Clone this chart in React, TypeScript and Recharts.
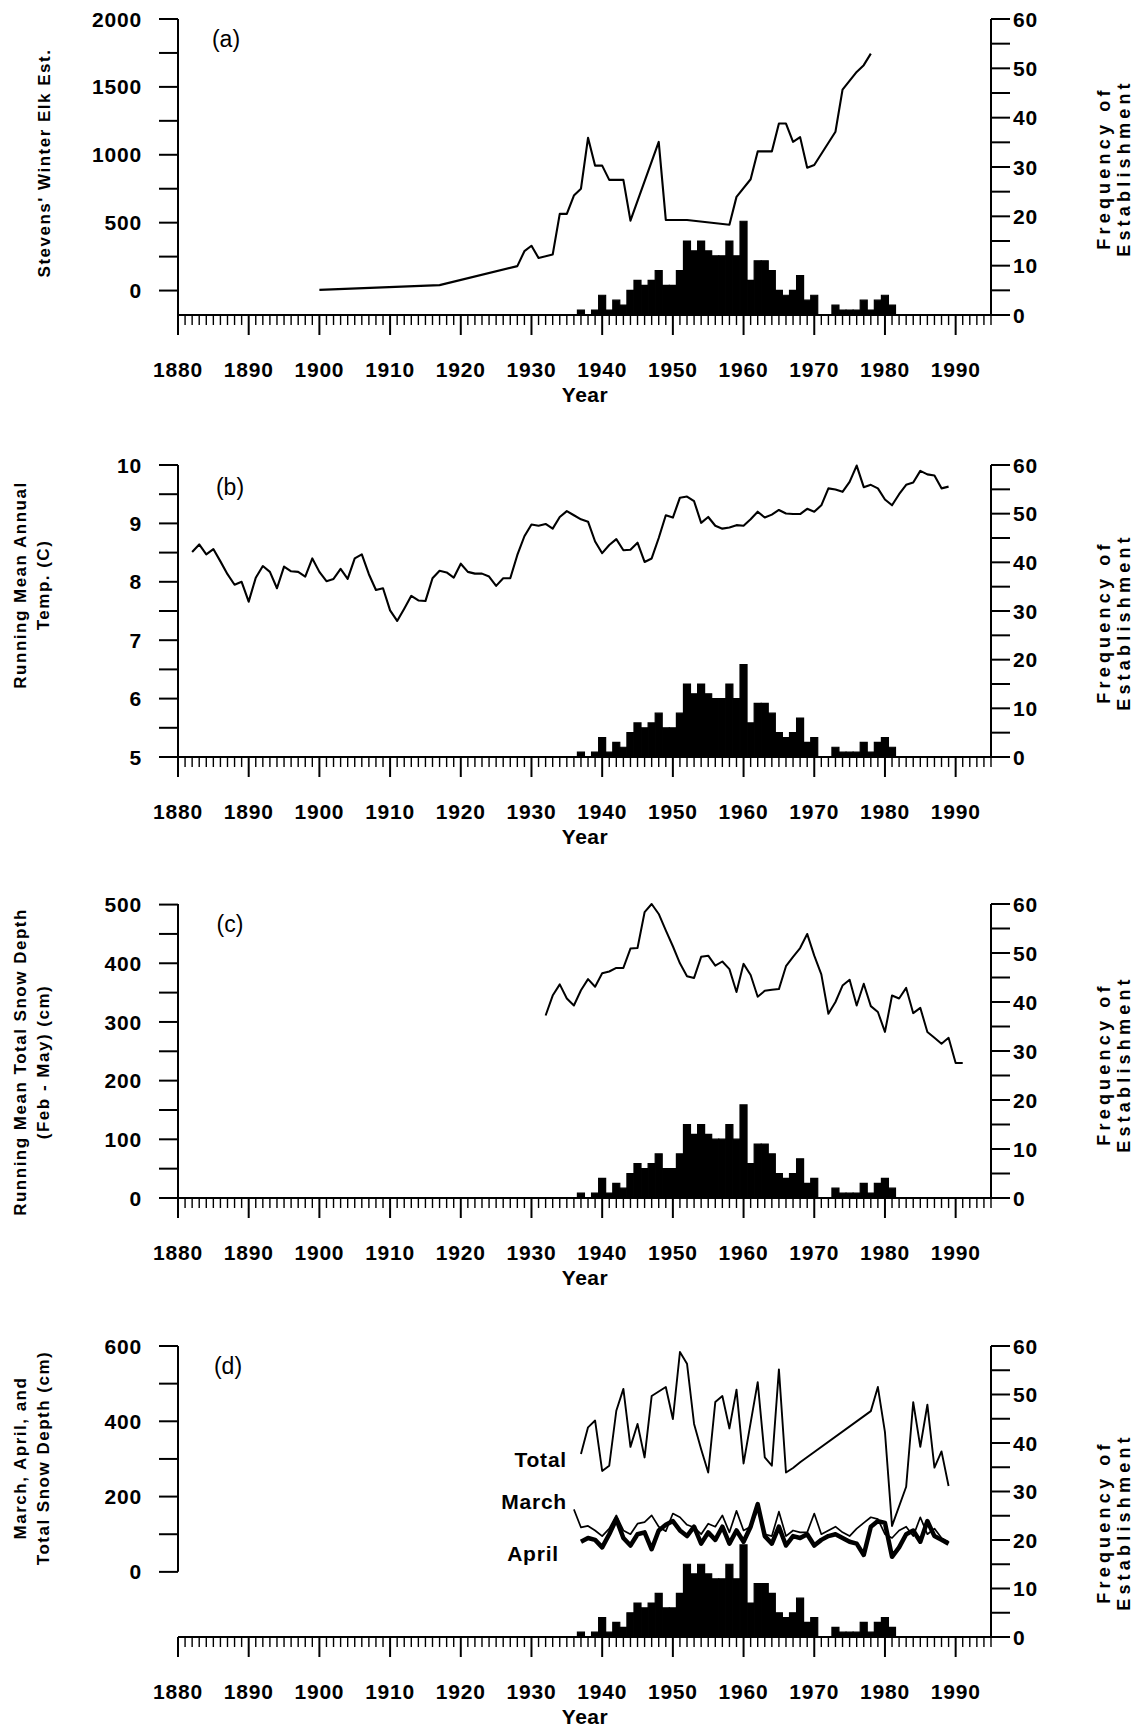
import React from 'react';
import { ComposedChart, Bar, Line, XAxis, YAxis, ReferenceLine } from 'recharts';

// frequency of establishment, one bar per year from 1937
const FREQ_START = 1937;
const freqCounts = [1, 0, 1, 4, 1, 3, 2, 5, 7, 6, 7, 9, 6, 6, 9, 15, 13, 15, 13, 12, 12, 15, 12, 19, 7, 11, 11, 9, 5, 4, 5, 8, 3, 4, 0, 0, 2, 1, 1, 1, 3, 1, 3, 4, 2];

// (a) Stevens' winter elk estimate
const elkYears = [1900, 1917, 1928, 1929, 1930, 1931, 1933, 1934, 1935, 1936, 1937, 1938, 1939, 1940, 1941, 1943, 1944, 1948, 1949, 1952, 1958, 1959, 1961, 1962, 1964, 1965, 1966, 1967, 1968, 1969, 1970, 1973, 1974, 1976, 1977, 1978];
const elkValues = [5, 40, 180, 290, 330, 240, 265, 565, 565, 700, 750, 1125, 920, 920, 815, 815, 515, 1095, 520, 520, 485, 690, 820, 1025, 1025, 1230, 1230, 1095, 1130, 905, 925, 1170, 1480, 1610, 1660, 1745];

// (b) running mean annual temperature
const TEMP_START = 1882;
const tempValues = [
  8.51, 8.64, 8.47, 8.56, 8.35, 8.13, 7.95, 8.0, 7.66, 8.07,
  8.27, 8.17, 7.89, 8.26, 8.18, 8.17, 8.09, 8.4, 8.17, 8.01,
  8.05, 8.22, 8.05, 8.4, 8.47, 8.13, 7.86, 7.89, 7.51, 7.33,
  7.54, 7.76, 7.68, 7.67, 8.06, 8.19, 8.16, 8.07, 8.31, 8.17,
  8.14, 8.14, 8.09, 7.93, 8.06, 8.06, 8.46, 8.78, 8.98, 8.96,
  8.99, 8.91, 9.11, 9.21, 9.14, 9.07, 9.03, 8.69, 8.49, 8.63,
  8.73, 8.54, 8.55, 8.67, 8.34, 8.4, 8.75, 9.14, 9.1, 9.44,
  9.46, 9.38, 9.01, 9.11, 8.96, 8.91, 8.93, 8.97, 8.96, 9.07,
  9.2, 9.1, 9.15, 9.23, 9.17, 9.16, 9.16, 9.25, 9.2, 9.31,
  9.6, 9.58, 9.54, 9.71, 9.99, 9.62, 9.66, 9.6, 9.41, 9.31,
  9.5, 9.66, 9.7, 9.9, 9.84, 9.82, 9.6, 9.63,
];

// (c) running mean total snow depth (Feb - May)
const SNOW_START = 1932;
const snowValues = [
  311, 345, 364, 340, 328, 354, 373, 360, 383, 386,
  392, 392, 425, 426, 487, 501, 484, 456, 429, 400,
  378, 375, 411, 413, 396, 403, 390, 351, 399, 380,
  343, 353, 355, 356, 395, 411, 426, 450, 413, 381,
  314, 334, 362, 372, 328, 365, 327, 317, 283, 345,
  340, 358, 315, 324, 283, 273, 263, 273, 230, 230,
];

// (d) total, March and April snow depth
const totalYears = [1937, 1938, 1939, 1940, 1941, 1942, 1943, 1944, 1945, 1946, 1947, 1949, 1950, 1951, 1952, 1953, 1954, 1955, 1956, 1957, 1958, 1959, 1960, 1962, 1963, 1964, 1965, 1966, 1967, 1968, 1978, 1979, 1980, 1981, 1983, 1984, 1985, 1986, 1987, 1988, 1989];
const totalValues = [313, 384, 402, 268, 282, 428, 486, 332, 393, 304, 467, 491, 406, 584, 553, 393, 326, 264, 451, 467, 381, 484, 288, 504, 304, 282, 538, 264, 276, 291, 427, 491, 371, 122, 226, 451, 332, 444, 277, 320, 228];
const MARCH_START = 1936;
const marchValues = [
  166, 118, 122, 110, 95, 115, 150, 110, 100, 128,
  132, 150, 120, 108, 155, 145, 125, 118, 100, 128,
  120, 150, 105, 162, 110, 120, 165, 100, 95, 160,
  95, 110, 105, 105, 155, 100, 110, 120, 105, 95,
  115, 130, 145, 140, 100, 90, 110, 120, 95, 145,
  100, 115, 90, 80,
];
const APRIL_START = 1937;
const aprilValues = [
  80, 90, 85, 65, 100, 140, 90, 70, 100, 105,
  60, 110, 125, 135, 110, 95, 120, 75, 105, 85,
  120, 75, 110, 80, 120, 180, 95, 75, 120, 70,
  95, 90, 100, 70, 85, 95, 100, 90, 80, 75,
  45, 120, 135, 130, 40, 65, 100, 110, 80, 135,
  95, 85, 75,
];

// axis ticks
const yearTicks = Array.from({ length: 116 }, (_, i) => 1880 + i);
const freqTicks = [0, 5, 10, 15, 20, 25, 30, 35, 40, 45, 50, 55, 60];
const elkTicks = [0, 250, 500, 750, 1000, 1250, 1500, 1750, 2000];
const tempTicks = [5, 5.5, 6, 6.5, 7, 7.5, 8, 8.5, 9, 9.5, 10];
const snowTicks = [0, 50, 100, 150, 200, 250, 300, 350, 400, 450, 500];
const depthTicks = [0, 100, 200, 300, 400, 500, 600];

const span = (start: number, n: number) => Array.from({ length: n }, (_, i) => start + i);

function makeRows(cols: { key: string; years: number[]; values: number[] }[]) {
  const map = new Map<number, any>();
  cols.forEach((c) =>
    c.years.forEach((y, i) => {
      const row = map.get(y) ?? { year: y };
      row[c.key] = c.values[i];
      map.set(y, row);
    })
  );
  return [...map.values()].sort((a, b) => a.year - b.year);
}

const freqCol = { key: 'freq', years: span(FREQ_START, freqCounts.length), values: freqCounts };

const rowsA = makeRows([freqCol, { key: 'elk', years: elkYears, values: elkValues }]);
const rowsB = makeRows([freqCol, { key: 'temp', years: span(TEMP_START, tempValues.length), values: tempValues }]);
const rowsC = makeRows([freqCol, { key: 'snow', years: span(SNOW_START, snowValues.length), values: snowValues }]);
const rowsD = makeRows([
  freqCol,
  { key: 'total', years: totalYears, values: totalValues },
  { key: 'march', years: span(MARCH_START, marchValues.length), values: marchValues },
  { key: 'april', years: span(APRIL_START, aprilValues.length), values: aprilValues },
]);

const FONT = '"Liberation Sans", Arial, Helvetica, sans-serif';
const tickText = { fontFamily: FONT, fontSize: 21, fontWeight: 700, letterSpacing: 0.8, fill: '#000' };
const titleText = { fontFamily: FONT, fontSize: 17, fontWeight: 700, letterSpacing: 1.5, fill: '#000' };
const freqTitle = { fontFamily: FONT, fontSize: 18, fontWeight: 700, letterSpacing: 4.2, fill: '#000' };
const axisStyle = { stroke: '#000', strokeWidth: 2 };

const renderYearTick = (props: any) => {
  const { x, y, payload } = props;
  const major = payload.value % 10 === 0;
  return (
    <g>
      <line x1={x} y1={y} x2={x} y2={y + (major ? 20 : 10)} stroke="#000" strokeWidth={major ? 2 : 1.4} />
      {major && payload.value <= 1990 && (
        <text x={x} y={y + 62} textAnchor="middle" style={tickText}>
          {payload.value}
        </text>
      )}
    </g>
  );
};

const leftTick = (step: number) => (props: any) => {
  const { x, y, payload } = props;
  return (
    <g>
      <line x1={x - 19} y1={y} x2={x} y2={y} stroke="#000" strokeWidth={2} />
      {payload.value % step === 0 && (
        <text x={x - 36} y={y} dy="0.36em" textAnchor="end" style={tickText}>
          {payload.value}
        </text>
      )}
    </g>
  );
};

const renderRightTick = (props: any) => {
  const { x, y, payload } = props;
  return (
    <g>
      <line x1={x} y1={y} x2={x + 19} y2={y} stroke="#000" strokeWidth={2} />
      {payload.value % 10 === 0 && (
        <text x={x + 22} y={y} dy="0.36em" textAnchor="start" style={tickText}>
          {payload.value}
        </text>
      )}
    </g>
  );
};

type LineDef = { key: string; width: number };

interface PanelProps {
  top: number;
  height: number;
  plotTop: number;
  plotBottom: number;
  rows: any[];
  leftDomain: [number, number];
  leftTicks: number[];
  labelStep: number;
  lines: LineDef[];
  leftRange?: [number, number];
}

const Panel = ({ top, height, plotTop, plotBottom, rows, leftDomain, leftTicks, labelStep, lines, leftRange }: PanelProps) => (
  <div style={{ position: 'absolute', left: 0, top }}>
    <ComposedChart
      width={1134}
      height={height}
      data={rows}
      margin={{ top: plotTop - top, right: 83, bottom: 0, left: 118 }}
      barCategoryGap={0}
      barGap={0}
    >
      <XAxis
        xAxisId="yr"
        dataKey="year"
        type="number"
        domain={[1880, 1995]}
        ticks={yearTicks}
        interval={0}
        tickSize={0}
        tickMargin={0}
        tickLine={false}
        tick={renderYearTick}
        axisLine={axisStyle}
        height={top + height - plotBottom}
      />
      <YAxis
        yAxisId="l"
        orientation="left"
        type="number"
        width={60}
        domain={leftDomain}
        ticks={leftTicks}
        interval={0}
        tickSize={0}
        tickMargin={0}
        tickLine={false}
        tick={leftTick(labelStep)}
        axisLine={leftRange ? false : axisStyle}
      />
      <YAxis
        yAxisId="r"
        orientation="right"
        type="number"
        width={60}
        domain={[0, 60]}
        ticks={freqTicks}
        interval={0}
        tickSize={0}
        tickMargin={0}
        tickLine={false}
        tick={renderRightTick}
        axisLine={axisStyle}
      />
      <Bar xAxisId="yr" yAxisId="r" dataKey="freq" fill="#000" stroke="#000" strokeWidth={1.2} isAnimationActive={false} />
      {lines.map((s) => (
        <Line
          key={s.key}
          xAxisId="yr"
          yAxisId="l"
          type="linear"
          dataKey={s.key}
          stroke="#000"
          strokeWidth={s.width}
          strokeLinejoin="round"
          dot={false}
          activeDot={false}
          connectNulls
          isAnimationActive={false}
        />
      ))}
      {leftRange && (
        <ReferenceLine
          xAxisId="yr"
          yAxisId="l"
          segment={[
            { x: 1880, y: leftRange[0] },
            { x: 1880, y: leftRange[1] },
          ]}
          stroke="#000"
          strokeWidth={2}
        />
      )}
    </ComposedChart>
  </div>
);

const VText = ({ x, y, children, style = titleText }: any) => (
  <text x={x} y={y} transform={`rotate(-90 ${x} ${y})`} textAnchor="middle" dominantBaseline="central" style={style}>
    {children}
  </text>
);

const panelLabel = { fontFamily: FONT, fontSize: 23, fill: '#000' };
const yearTitle = { fontFamily: FONT, fontSize: 21, fontWeight: 700, letterSpacing: 0.5, fill: '#000' };

export default function App() {
  return (
    <div style={{ position: 'absolute', left: 0, top: 0, width: 1134, height: 1729, background: '#fff', overflow: 'hidden' }}>
      <Panel top={0} height={430} plotTop={19} plotBottom={315} rows={rowsA} leftDomain={[-180, 2000]} leftTicks={elkTicks} labelStep={500} lines={[{ key: 'elk', width: 2.1 }]} />
      <Panel top={440} height={430} plotTop={465} plotBottom={757} rows={rowsB} leftDomain={[5, 10]} leftTicks={tempTicks} labelStep={1} lines={[{ key: 'temp', width: 2.1 }]} />
      <Panel top={880} height={430} plotTop={904} plotBottom={1198} rows={rowsC} leftDomain={[0, 500]} leftTicks={snowTicks} labelStep={100} lines={[{ key: 'snow', width: 2 }]} />
      <Panel
        top={1320}
        height={409}
        plotTop={1346}
        plotBottom={1637}
        rows={rowsD}
        leftDomain={[-173, 600]}
        leftTicks={depthTicks}
        labelStep={200}
        leftRange={[0, 600]}
        lines={[
          { key: 'total', width: 1.9 },
          { key: 'march', width: 1.7 },
          { key: 'april', width: 4.5 },
        ]}
      />
      <svg width={1134} height={1729} style={{ position: 'absolute', left: 0, top: 0, pointerEvents: 'none' }}>
        <text x={226} y={47} textAnchor="middle" style={panelLabel}>(a)</text>
        <text x={230} y={495} textAnchor="middle" style={panelLabel}>(b)</text>
        <text x={230} y={932} textAnchor="middle" style={panelLabel}>(c)</text>
        <text x={228} y={1374} textAnchor="middle" style={panelLabel}>(d)</text>

        <VText x={44} y={163}>Stevens' Winter Elk Est.</VText>
        <VText x={20} y={585}>Running Mean Annual</VText>
        <VText x={43} y={585}>Temp. (C)</VText>
        <VText x={20} y={1062}>Running Mean Total Snow Depth</VText>
        <VText x={43} y={1062}>(Feb - May) (cm)</VText>
        <VText x={20} y={1458}>March, April, and</VText>
        <VText x={43} y={1458}>Total Snow Depth (cm)</VText>

        {[168, 622, 1064, 1522].map((cy) => (
          <g key={cy}>
            <VText x={1104} y={cy} style={freqTitle}>Frequency of</VText>
            <VText x={1124} y={cy} style={freqTitle}>Establishment</VText>
          </g>
        ))}

        {[395, 837, 1278, 1717].map((cy) => (
          <text key={cy} x={585} y={cy} dy="0.35em" textAnchor="middle" style={yearTitle}>Year</text>
        ))}

        <text x={567} y={1460} dy="0.35em" textAnchor="end" style={tickText}>Total</text>
        <text x={567} y={1502} dy="0.35em" textAnchor="end" style={tickText}>March</text>
        <text x={559} y={1554} dy="0.35em" textAnchor="end" style={tickText}>April</text>
      </svg>
    </div>
  );
}
